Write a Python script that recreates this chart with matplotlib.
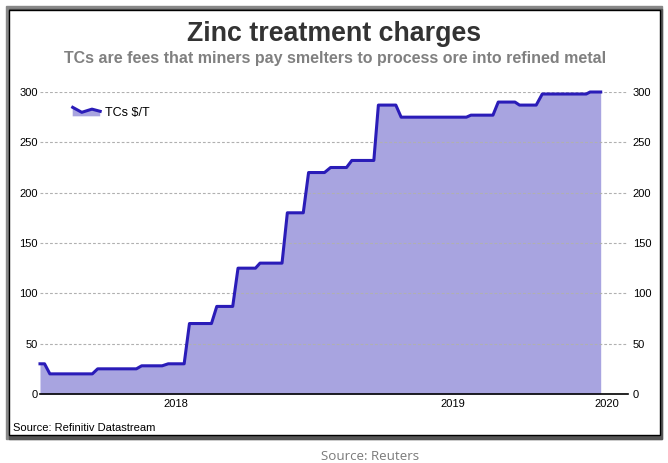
import pandas as pd
import numpy as np
import matplotlib
matplotlib.use("Agg")
import matplotlib.pyplot as plt
from matplotlib.patches import Rectangle, Polygon
from matplotlib.lines import Line2D
from matplotlib.legend_handler import HandlerBase

# Valores (vertices de la serie TCs $/T)
fechas = ["2018-01-04", "2018-01-10", "2018-01-17", "2018-03-14", "2018-03-21",
          "2018-05-11", "2018-05-18", "2018-06-14", "2018-06-22", "2018-07-13",
          "2018-07-20", "2018-08-18", "2018-08-25", "2018-09-15", "2018-09-22",
          "2018-10-15", "2018-10-21", "2018-11-19", "2018-11-26", "2018-12-17",
          "2018-12-24", "2019-01-14", "2019-01-22", "2019-02-12", "2019-02-19",
          "2019-03-20", "2019-03-26", "2019-04-18", "2019-04-25", "2019-07-20",
          "2019-07-26", "2019-08-24", "2019-08-31", "2019-09-22", "2019-09-28",
          "2019-10-20", "2019-10-28", "2019-12-25", "2019-12-30", "2020-01-13"]
tcs = [30, 30, 20, 20, 25, 25, 28, 28, 30, 30,
       70, 70, 87, 87, 125, 125, 130, 130, 180, 180,
       220, 220, 225, 225, 232, 232, 287, 287, 275, 275,
       277, 277, 290, 290, 287, 287, 298, 298, 300, 300]

y_ticks = [0, 50, 100, 150, 200, 250, 300]
x_tick_pos = ["2018-07-02", "2019-07-02", "2020-01-21"]
x_tick_labels = ["2018", "2019", "2020"]

fechas = pd.to_datetime(fechas)

LINE = "#2A1CB8"
FILL = "#A8A4E0"
FONT = ["Liberation Sans", "DejaVu Sans"]
plt.rcParams["font.family"] = FONT

W, H = 668, 463
fig = plt.figure(figsize=(W / 100, H / 100), dpi=100)


def px(x0, y0, x1, y1):
    # rectangulo en pixeles -> fraccion de figura
    return (x0 / W, 1 - y1 / H), (x1 - x0) / W, (y1 - y0) / H


# Marco exterior con sombra
xy, w, h = px(5.7, 5.7, 662.3, 439.3)
fig.add_artist(Rectangle(xy, w, h, transform=fig.transFigure, color="#888888", zorder=-3))
xy, w, h = px(9, 9, 662.3, 439.3)
fig.add_artist(Rectangle(xy, w, h, transform=fig.transFigure, color="#555555", zorder=-2))
xy, w, h = px(8.5, 9.5, 659.5, 434.5)
fig.add_artist(Rectangle(xy, w, h, transform=fig.transFigure, facecolor="white",
                         edgecolor="black", linewidth=1.0, zorder=-1))

ax = fig.add_axes([40 / W, 1 - 394 / H, (628 - 40) / W, (394 - 92) / H])
ax.patch.set_alpha(0)

ax.fill_between(fechas, tcs, 0, color=FILL, linewidth=0, zorder=1)
ax.plot(fechas, tcs, color=LINE, linewidth=2.2, clip_on=False, zorder=3)

ax.set_xlim(pd.Timestamp("2018-01-04"), pd.Timestamp("2020-02-18"))
ax.set_ylim(0, 300)

ax.set_yticks(y_ticks)
ax.set_xticks(pd.to_datetime(x_tick_pos))
ax.set_xticklabels(x_tick_labels)
ax.tick_params(axis="both", length=0, labelsize=8, colors="black")
ax.tick_params(axis="y", pad=1.5)
ax.tick_params(axis="x", pad=3.5)

ax2 = ax.twinx()
ax2.set_ylim(0, 300)
ax2.set_yticks(y_ticks)
ax2.tick_params(axis="y", length=0, labelsize=8, pad=3.5)

for a in (ax, ax2):
    for s in ["top", "left", "right", "bottom"]:
        a.spines[s].set_visible(False)
ax.spines["bottom"].set_visible(True)
ax.spines["bottom"].set_linewidth(1.2)
ax.spines["bottom"].set_zorder(4)

ax.grid(axis="y", color="#b0b0b0", linestyle=(0, (2.5, 1.8)), linewidth=0.8, zorder=0)
ax.grid(axis="x", visible=False)


# Simbolo de leyenda: area con linea quebrada
class AreaHandler(HandlerBase):
    def create_artists(self, legend, orig_handle, xdescent, ydescent,
                       width, height, fontsize, trans):
        rx = np.array([0, 0.33, 0.7, 1.0])
        ry = np.array([0.9, 0.4, 0.72, 0.5])
        xs = rx * width - xdescent
        ys = ry * height - ydescent
        verts = list(zip(xs, ys)) + [(xs[-1], -ydescent), (xs[0], -ydescent)]
        poly = Polygon(verts, closed=True, facecolor=FILL, edgecolor="none", transform=trans)
        line = Line2D(xs, ys, color=LINE, linewidth=2.2, transform=trans)
        return [poly, line]


handle = Rectangle((0, 0), 1, 1)
ax.legend([handle], ["TCs $/T"], handler_map={Rectangle: AreaHandler()},
          loc="center left", bbox_to_anchor=(72.7 / W, 1 - 112.5 / H),
          bbox_transform=fig.transFigure, frameon=False, fontsize=9,
          handlelength=2.2, handleheight=0.85, handletextpad=0.4,
          borderpad=0, borderaxespad=0)

# Textos
fig.text(334.5 / W, 1 - 40.7 / H, "Zinc treatment charges", ha="center", va="baseline",
         fontsize=19.3, fontweight="bold", color="#333333")
fig.text(335.5 / W, 1 - 63 / H,
         "TCs are fees that miners pay smelters to process ore into refined metal",
         ha="center", va="baseline", fontsize=11.5, fontweight="bold", color="#808080")
fig.text(13.3 / W, 1 - 431 / H, "Source: Refinitiv Datastream", ha="left", va="baseline",
         fontsize=8, color="black")
fig.text(370.5 / W, 1 - 460 / H, "Source: Reuters", ha="center", va="baseline",
         fontsize=9.6, color="#7a7a7a", family=["Open Sans", "DejaVu Sans"])

plt.savefig("out.png", dpi=100)
plt.close()
